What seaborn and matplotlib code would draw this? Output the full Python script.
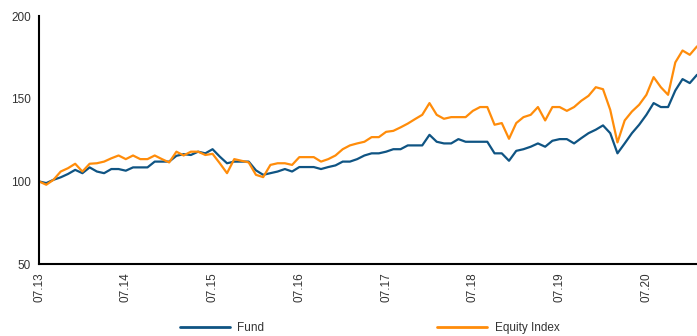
import matplotlib
matplotlib.use("Agg")
import matplotlib.pyplot as plt
import numpy as np
import pandas as pd
import seaborn as sns

# Monthly index values, July 2013 = 100
fund = [100, 99, 101, 102.5, 104.5, 107, 105, 108.5, 106, 105, 107.5, 107.5,
        106.5, 108.5, 108.5, 108.5, 112, 112, 112, 115.5, 116.5, 116, 118, 117,
        119.5, 115, 111, 112, 112, 112, 106.7, 104, 105, 106, 107.5, 106,
        108.7, 108.7, 108.7, 107.5, 108.7, 109.7, 112, 112, 113.5, 115.7, 117, 117,
        118, 119.5, 119.5, 121.8, 121.8, 121.8, 128.2, 124, 123, 123, 125.6, 124,
        124, 124, 124, 117, 117, 112.5, 118.5, 119.5, 121, 123, 121, 124.6,
        125.6, 125.6, 123, 126.2, 129.2, 131.3, 133.9, 129.2, 117, 123, 129.2, 134.3,
        140.3, 147.4, 145, 145, 155, 161.9, 159.5, 164.5]
equity = [100, 98, 101, 106, 108, 110.7, 106, 110.7, 111, 112, 114, 115.7,
          113.5, 115.7, 113.5, 113.5, 115.7, 113.5, 111.5, 118, 115.7, 118, 118, 116,
          116.7, 111, 105, 113.5, 112.5, 111.5, 104, 102.6, 110, 111, 111, 110,
          114.7, 114.7, 114.7, 112, 113.5, 115.7, 119.5, 121.8, 123, 124, 126.8, 126.8,
          130, 130.6, 132.7, 135, 137.7, 140.3, 147.4, 140.3, 137.9, 138.9, 138.9, 138.9,
          142.7, 145, 145, 134.3, 135.3, 125.8, 135.3, 138.9, 140.3, 145, 136.9, 145,
          145, 142.7, 145, 148.8, 151.8, 157, 155.8, 143.3, 123.6, 136.9, 142.3, 146.4,
          152.4, 163.1, 157, 152.4, 172, 179.2, 176.6, 181.7]
series_names = ["Fund", "Equity Index"]
tick_labels = ["07.13", "07.14", "07.15", "07.16", "07.17", "07.18", "07.19", "07.20"]
y_ticks = [50, 100, 150, 200]

months = np.arange(len(fund))
df = pd.DataFrame({
    "month": np.concatenate([months, months]),
    "value": fund + equity,
    "series": [series_names[0]] * len(fund) + [series_names[1]] * len(equity),
})

sns.set_style("white")
plt.rcParams["font.family"] = ["Liberation Sans Narrow", "Liberation Sans", "DejaVu Sans"]
text_color = "#333333"

fig = plt.figure(figsize=(6.97, 3.36), dpi=100)
ax = fig.add_axes([0.056, 0.214, 0.944, 0.738])

palette = {"Fund": "#0f5483", "Equity Index": "#ff8c0a"}
sns.lineplot(data=df, x="month", y="value", hue="series", hue_order=series_names,
             palette=palette, linewidth=1.6, ax=ax, legend=False)

ax.set_xlim(0, len(fund) - 1)
ax.set_ylim(50, 200)
ax.set_xticks(np.arange(0, 12 * len(tick_labels), 12))
ax.set_xticklabels(tick_labels, rotation=90, fontsize=8.5, color=text_color)
ax.set_yticks(y_ticks)
ax.set_yticklabels([str(t) for t in y_ticks], fontsize=8.5, color=text_color)
ax.set_xlabel("")
ax.set_ylabel("")

for side in ["top", "right"]:
    ax.spines[side].set_visible(False)
for side in ["left", "bottom"]:
    ax.spines[side].set_color("black")
    ax.spines[side].set_linewidth(1.5)
ax.tick_params(axis="both", direction="out", length=4, width=1.2, color="black", pad=2)
ax.grid(False)

handles = [plt.Line2D([], [], color=palette[n], linewidth=2) for n in series_names]
leg = fig.legend(handles, series_names, loc="lower center", bbox_to_anchor=(0.53, -0.025),
                 ncol=2, frameon=False, fontsize=8.5, handlelength=4.3,
                 columnspacing=14.6, handletextpad=0.6)
for t in leg.get_texts():
    t.set_color(text_color)

fig.savefig("out.png", dpi=100)
